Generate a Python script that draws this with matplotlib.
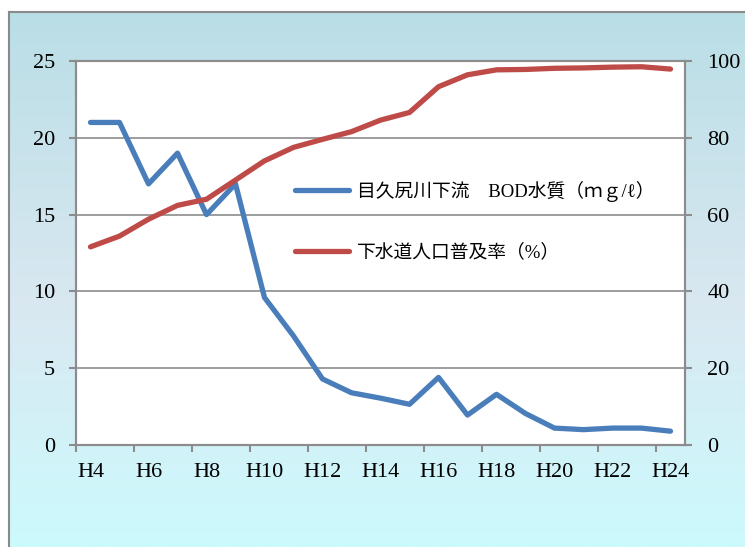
import numpy as np
import matplotlib.pyplot as plt
from matplotlib.colors import to_rgb

# 年度 (H4〜H24)
years = ['H%d' % y for y in range(4, 25)]

# 目久尻川下流 BOD (mg/l)
bod = [21.0, 21.0, 17.0, 19.0, 15.0, 17.0, 9.6, 7.1, 4.3, 3.4, 3.05,
       2.65, 4.4, 1.95, 3.3, 2.05, 1.1, 1.0, 1.1, 1.1, 0.9]

# 下水道人口普及率 (%)
sewer = [51.6, 54.4, 58.8, 62.4, 64.0, 69.0, 74.0, 77.5, 79.6, 81.6, 84.6,
         86.6, 93.3, 96.4, 97.7, 97.8, 98.1, 98.2, 98.4, 98.5, 97.9]

blue = '#4A7EBB'
red = '#BE4B48'
grid_gray = '#8C8C8C'
serif = ['Liberation Serif', 'Noto Sans CJK JP']
plt.rcParams['font.family'] = serif

fig = plt.figure(figsize=(7.45, 5.47), dpi=100, facecolor='white')

# 背景のグラデーション
stops = [(0.0, '#BADEE6'), (0.55, '#D9E8F1'), (1.0, '#CCFAFD')]
pos = np.linspace(0, 1, 256)
grad = np.zeros((256, 1, 3))
for c in range(3):
    grad[:, 0, c] = np.interp(pos, [s[0] for s in stops],
                              [to_rgb(s[1])[c] for s in stops])
bg = fig.add_axes([9 / 745, 0, 1 - 9 / 745, 1 - 12 / 547], zorder=-5)
bg.imshow(grad, aspect='auto', extent=[0, 1, 0, 1], origin='upper')
bg.set_xticks([])
bg.set_yticks([])
for side in ['right', 'bottom']:
    bg.spines[side].set_visible(False)
for side in ['left', 'top']:
    bg.spines[side].set_color('#8A8A8A')
    bg.spines[side].set_linewidth(1.5)

ax = fig.add_axes([76 / 745, 1 - 445 / 547, 609 / 745, 384 / 547])
ax.set_facecolor('white')
x = np.arange(len(years))
l1, = ax.plot(x, bod, color=blue, lw=3.8, solid_capstyle='round',
              solid_joinstyle='round', label='目久尻川下流　BOD水質（ｍｇ/ℓ）', zorder=3)
ax.set_xlim(-0.5, len(years) - 0.5)
ax.set_ylim(0, 25)
ax.set_yticks(range(0, 26, 5))
ax.yaxis.grid(True, color=grid_gray, lw=1.2)
ax.set_axisbelow(True)

# 目盛りは2年ごとの区切り、ラベルは年度の中央
ax.set_xticks(np.arange(-0.5, len(years), 2))
ax.set_xticklabels([])
ax.set_xticks(x[::2], minor=True)
ax.set_xticklabels(years[::2], minor=True)
ax.tick_params(axis='x', which='major', length=5, width=1.5, color=grid_gray)
ax.tick_params(axis='x', which='minor', length=0, pad=13, labelsize=16)
ax.tick_params(axis='y', length=5, width=1.5, color=grid_gray, pad=10, labelsize=16)
for side in ax.spines.values():
    side.set_color(grid_gray)
    side.set_linewidth(1.5)

ax2 = ax.twinx()
l2, = ax2.plot(x, sewer, color=red, lw=3.8, solid_capstyle='round',
               solid_joinstyle='round', label='下水道人口普及率（%）', zorder=3)
ax2.set_ylim(0, 100)
ax2.set_yticks(range(0, 101, 20))
ax2.tick_params(axis='y', length=5, width=1.5, color=grid_gray, pad=11, labelsize=16)
for side in ax2.spines.values():
    side.set_color(grid_gray)
    side.set_linewidth(1.5)

ax2.legend(handles=[l1, l2], loc='upper left', bbox_to_anchor=(295 / 745, 1 - 181 / 547),
           bbox_transform=fig.transFigure, frameon=False, fontsize=13.5,
           handlelength=2.9, handletextpad=0.4, labelspacing=2.2, borderpad=0,
           borderaxespad=0)

fig.savefig('out.png', dpi=100, facecolor=fig.get_facecolor())
